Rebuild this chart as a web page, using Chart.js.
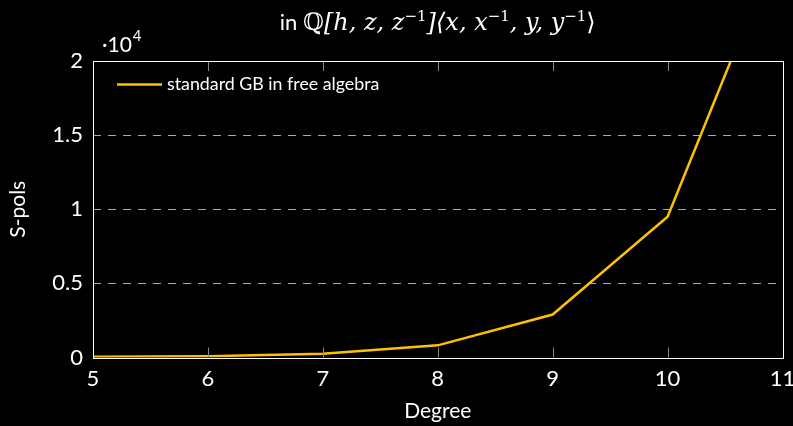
<!DOCTYPE html>
<html>
<head>
<meta charset="utf-8">
<script src="https://cdn.jsdelivr.net/npm/chart.js@4.4.0/dist/chart.umd.min.js"></script>
<style>
  html, body { margin: 0; padding: 0; background: #000; }
  #wrap { width: 793px; height: 426px; }
</style>
</head>
<body>
<div id="wrap"><canvas id="chart"></canvas></div>
<script>
// data
const degrees = [5, 6, 7, 8, 9, 10, 11];
const spols = [50, 90, 250, 820, 2900, 9500, 28600];
const seriesLabel = 'standard GB in free algebra';
const yTicks = [0, 5000, 10000, 15000, 20000];
const xTicks = [5, 6, 7, 8, 9, 10, 11];

const lineColor = '#ffc000';
const sansFont = 'Lato, "Noto Sans", sans-serif';
const serifFont = '"DejaVu Serif", "Liberation Serif", serif';

// frame, inward ticks, title, exponent and legend
const decorPlugin = {
    id: 'decor',
    afterDatasetsDraw(chart) {
        const ctx = chart.ctx;
        const a = chart.chartArea;
        const xs = chart.scales.x;
        ctx.save();

        // inward x ticks top and bottom
        ctx.strokeStyle = '#888';
        ctx.lineWidth = 1;
        xTicks.forEach(v => {
            const px = Math.round(xs.getPixelForValue(v)) + 0.5;
            ctx.beginPath();
            ctx.moveTo(px, a.bottom);
            ctx.lineTo(px, a.bottom - 10);
            ctx.moveTo(px, a.top);
            ctx.lineTo(px, a.top + 10);
            ctx.stroke();
        });

        // frame
        ctx.strokeStyle = '#fff';
        ctx.lineWidth = 1;
        ctx.strokeRect(Math.round(a.left) + 0.5, Math.round(a.top) + 0.5,
            Math.round(a.right - a.left), Math.round(a.bottom - a.top));

        // legend (top left inside)
        const ds = chart.data.datasets[0];
        ctx.strokeStyle = ds.borderColor;
        ctx.lineWidth = 2.5;
        ctx.beginPath();
        ctx.moveTo(a.left + 24, a.top + 23.5);
        ctx.lineTo(a.left + 69, a.top + 23.5);
        ctx.stroke();
        ctx.fillStyle = '#fff';
        ctx.font = '17.8px ' + sansFont;
        ctx.textBaseline = 'middle';
        ctx.textAlign = 'left';
        ctx.fillText(ds.label, a.left + 74, a.top + 23);

        // exponent label
        ctx.textBaseline = 'alphabetic';
        ctx.font = '21px ' + sansFont;
        ctx.fillText('\u00b710', a.left + 9, a.top - 9);
        const w = ctx.measureText('\u00b710').width;
        ctx.font = '15px ' + sansFont;
        ctx.fillText('4', a.left + 9 + w + 1, a.top - 20);

        // title with superscripts
        const parts = [
            ['in ', '22px ' + sansFont, 0],
            ['\u211a', '24px ' + serifFont, 0],
            ['[h, z, z', 'italic 24px ' + serifFont, 0],
            ['\u22121', '15px ' + serifFont, 9],
            [']\u27e8x, x', 'italic 24px ' + serifFont, 0],
            ['\u22121', '15px ' + serifFont, 9],
            [', y, y', 'italic 24px ' + serifFont, 0],
            ['\u22121', '15px ' + serifFont, 9],
            ['\u27e9', '24px ' + serifFont, 0]
        ];
        let total = 0;
        parts.forEach(p => { ctx.font = p[1]; total += ctx.measureText(p[0]).width; });
        let x = (a.left + a.right) / 2 - total / 2;
        const base = 30;
        parts.forEach(p => {
            ctx.font = p[1];
            ctx.fillText(p[0], x, base - p[2]);
            x += ctx.measureText(p[0]).width;
        });
        ctx.restore();
    }
};

new Chart(document.getElementById('chart'), {
    type: 'line',
    data: {
        labels: degrees,
        datasets: [{
            label: seriesLabel,
            data: degrees.map((d, i) => ({ x: d, y: spols[i] })),
            borderColor: lineColor,
            backgroundColor: lineColor,
            borderWidth: 2.5,
            pointRadius: 0,
            tension: 0
        }]
    },
    options: {
        responsive: true,
        maintainAspectRatio: false,
        animation: false,
        layout: { padding: { top: 61, right: 10.5, left: 0, bottom: 0 } },
        plugins: {
            legend: { display: false },
            title: { display: false },
            tooltip: { enabled: false }
        },
        scales: {
            x: {
                type: 'linear',
                min: 5,
                max: 11,
                afterFit: s => { s.height = 68.5; s.paddingLeft = 0; s.paddingRight = 0; },
                afterBuildTicks: s => { s.ticks = xTicks.map(v => ({ value: v })); },
                grid: { display: false, drawTicks: false },
                border: { display: false },
                ticks: {
                    color: '#fff',
                    font: { family: sansFont, size: 22 },
                    padding: 8,
                    maxRotation: 0
                },
                title: {
                    display: true,
                    text: 'Degree',
                    color: '#fff',
                    font: { family: sansFont, size: 21 },
                    padding: { top: 0, bottom: 2 }
                }
            },
            y: {
                min: 0,
                max: 20000,
                afterFit: s => { s.width = 93; s.paddingTop = 0; s.paddingBottom = 0; },
                afterBuildTicks: s => { s.ticks = yTicks.map(v => ({ value: v })); },
                grid: {
                    drawTicks: false,
                    color: ctx => (ctx.tick && (ctx.tick.value === 0 || ctx.tick.value === 20000)) ? 'rgba(0,0,0,0)' : '#aaa',
                    lineWidth: 1
                },
                border: { display: false, dash: [8, 7] },
                ticks: {
                    color: '#fff',
                    font: { family: sansFont, size: 22 },
                    padding: 10,
                    callback: v => String(v / 10000)
                },
                title: {
                    display: true,
                    text: 'S-pols',
                    color: '#fff',
                    font: { family: sansFont, size: 21 },
                    padding: { top: 6, bottom: 0 }
                }
            }
        }
    },
    plugins: [decorPlugin]
});
</script>
</body>
</html>
